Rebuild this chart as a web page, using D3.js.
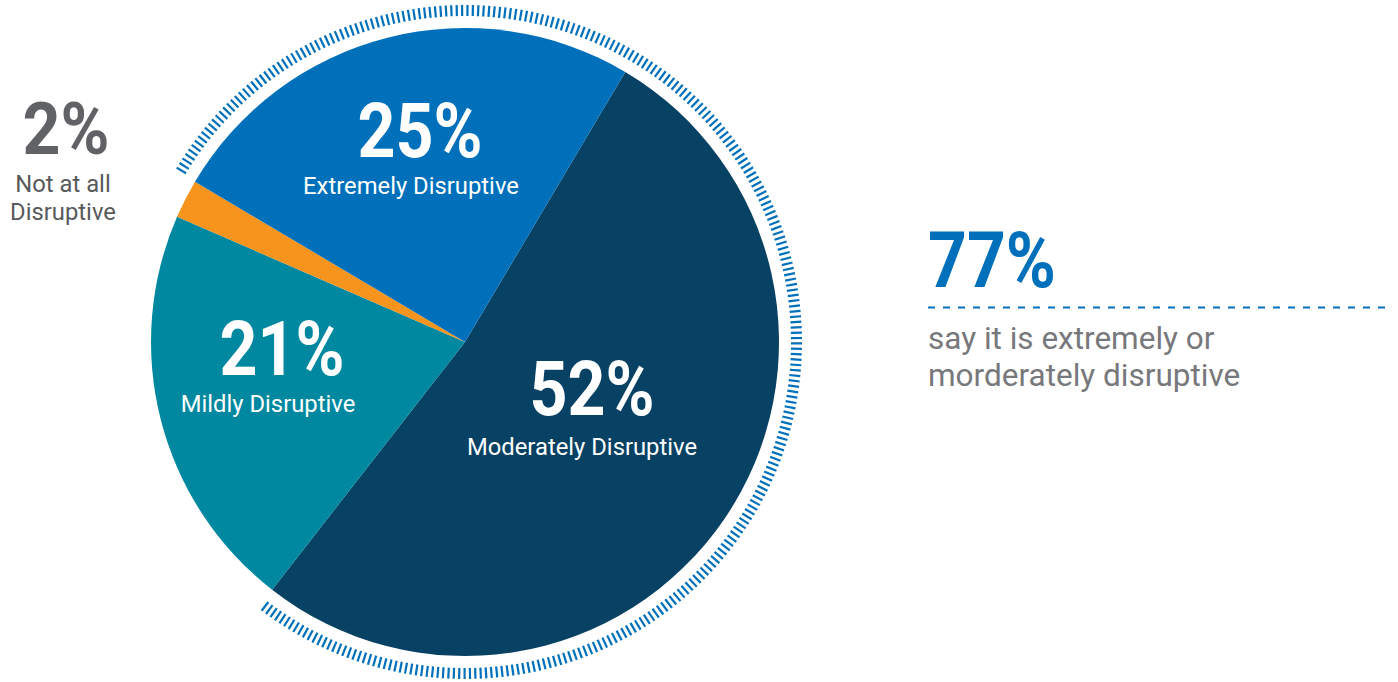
<!DOCTYPE html>
<html lang="en">
<head>
<meta charset="UTF-8" />
<title>Disruption survey</title>
<script src="https://d3js.org/d3.v7.min.js"></script>
<style>
  html, body { margin: 0; padding: 0; background: #fff; }
  svg { display: block; font-family: Roboto, "Open Sans", sans-serif; }
</style>
</head>
<body>
<svg id="chart" width="1398" height="682"></svg>
<script>
// data
const categories = ["Moderately Disruptive", "Mildly Disruptive", "Not at all Disruptive", "Extremely Disruptive"];
const shares     = [52, 21, 2, 25];
const colors     = ["#074163", "#0088a0", "#f7941d", "#0070bb"];
const summaryValue = 77;
const summaryText  = ["say it is extremely or", "morderately disruptive"];

// layout
const cx = 465, cy = 342, radius = 314;
const startDeg = 30.7;   // first slice starts a bit right of 12 o'clock

// label anchors: number centre/baseline, caption centre/baseline
const labelPos = [
  { nx: 592, ny: 415, capx: 582, capy: 455 },
  { nx: 282, ny: 375, capx: 268, capy: 412 },
  { nx: 66,  ny: 154, capx: 63,  capy: 192, outside: true },
  { nx: 420, ny: 157, capx: 411, capy: 194 }
];

const svg = d3.select("#chart");
const g = svg.append("g").attr("transform", `translate(${cx},${cy})`);

const data = categories.map((c, i) => ({ name: c, value: shares[i], color: colors[i], pos: labelPos[i] }));

const a0 = startDeg * Math.PI / 180;
const pie = d3.pie().sort(null).value(d => d.value)
  .startAngle(a0).endAngle(a0 + 2 * Math.PI);
const arc = d3.arc().innerRadius(0).outerRadius(radius);
const arcs = pie(data);

g.selectAll("path.slice")
  .data(arcs)
  .enter().append("path")
    .attr("class", "slice")
    .attr("d", arc)
    .attr("fill", d => d.data.color);

// tick ring over extremely + moderately
const ext = arcs[3], mod = arcs[0];
const ringStart = ext.startAngle, ringEnd = mod.endAngle + 2 * Math.PI;
const step = 0.926 * Math.PI / 180;
const tickAngles = d3.range(ringStart + step / 2, ringEnd, step);
const rIn = 326, rOut = 337;
g.selectAll("line.tick")
  .data(tickAngles)
  .enter().append("line")
    .attr("class", "tick")
    .attr("x1", a => rIn * Math.sin(a))
    .attr("y1", a => -rIn * Math.cos(a))
    .attr("x2", a => rOut * Math.sin(a))
    .attr("y2", a => -rOut * Math.cos(a))
    .attr("stroke", "#0070bb")
    .attr("stroke-width", 2.2);

// slice labels
data.forEach(d => {
  const p = d.pos;
  svg.append("text")
    .attr("x", p.nx).attr("y", p.ny)
    .attr("text-anchor", "middle")
    .attr("font-size", p.outside ? 72 : 76)
    .attr("font-weight", 700)
    .attr("fill", p.outside ? "#616265" : "#fff")
    .attr("textLength", p.outside ? 87 : 125)
    .attr("lengthAdjust", "spacingAndGlyphs")
    .text(d.value + "%");

  const lines = p.outside ? ["Not at all", "Disruptive"] : [d.name];
  lines.forEach((w, i) => {
    svg.append("text")
      .attr("x", p.capx).attr("y", p.capy + i * 28)
      .attr("text-anchor", "middle")
      .attr("font-size", 23.8)
      .attr("fill", p.outside ? "#58595b" : "#fff")
      .text(w);
  });
});

// summary on the right
const sx = 928;
svg.append("text")
  .attr("x", sx).attr("y", 287)
  .attr("font-size", 77)
  .attr("font-weight", 700)
  .attr("fill", "#0070bb")
  .attr("textLength", 128)
  .attr("lengthAdjust", "spacingAndGlyphs")
  .text(summaryValue + "%");

svg.append("line")
  .attr("x1", sx).attr("x2", 1390)
  .attr("y1", 307.5).attr("y2", 307.5)
  .attr("stroke", "#0070bb")
  .attr("stroke-width", 2)
  .attr("stroke-dasharray", "7,8");

summaryText.forEach((t, i) => {
  svg.append("text")
    .attr("x", sx).attr("y", 349 + i * 37)
    .attr("font-size", 31.5)
    .attr("fill", "#77787b")
    .text(t);
});
</script>
</body>
</html>
